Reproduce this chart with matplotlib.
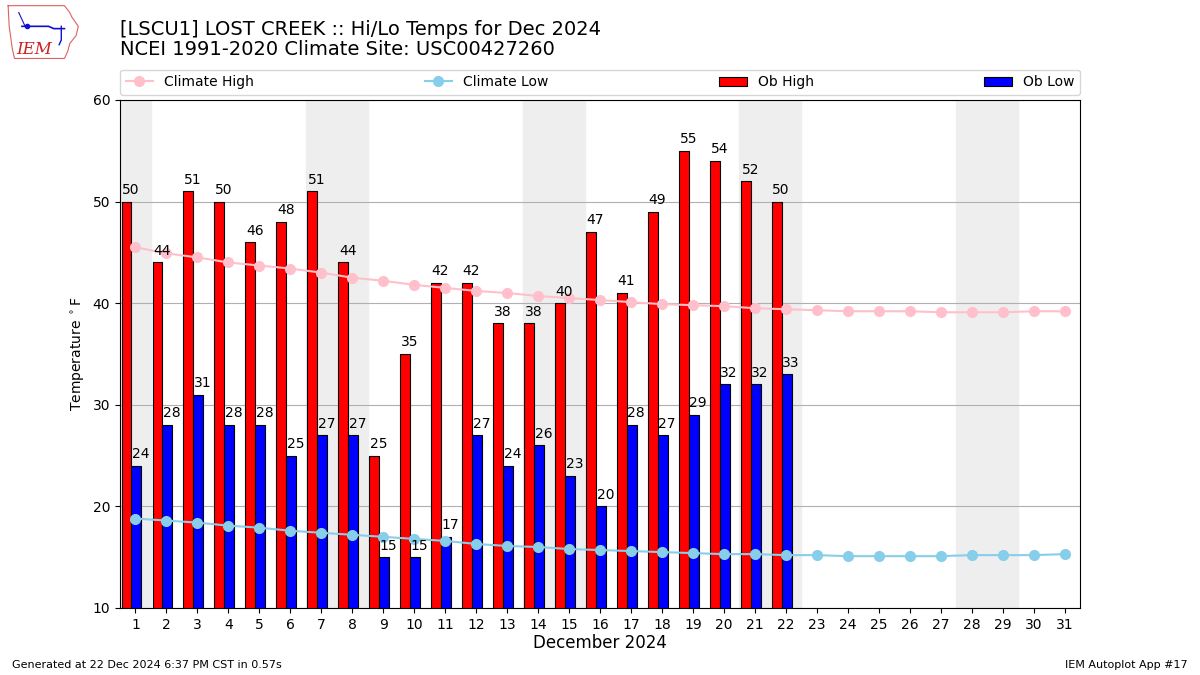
import numpy as np
import matplotlib.pyplot as plt

days = np.arange(1, 32)
ob_days = np.arange(1, 23)
ob_high = [50, 44, 51, 50, 46, 48, 51, 44, 25, 35, 42, 42, 38, 38, 40, 47, 41, 49, 55, 54, 52, 50]
ob_low = [24, 28, 31, 28, 28, 25, 27, 27, 15, 15, 17, 27, 24, 26, 23, 20, 28, 27, 29, 32, 32, 33]
clim_high = [45.5, 44.9, 44.5, 44.0, 43.7, 43.4, 43.0, 42.5, 42.2, 41.8, 41.5, 41.2, 41.0, 40.7, 40.5, 40.3,
             40.1, 39.9, 39.8, 39.7, 39.5, 39.4, 39.3, 39.2, 39.2, 39.2, 39.1, 39.1, 39.1, 39.2, 39.2]
clim_low = [18.8, 18.6, 18.4, 18.1, 17.9, 17.6, 17.4, 17.2, 17.0, 16.8, 16.6, 16.3, 16.1, 16.0, 15.8, 15.7,
            15.6, 15.5, 15.4, 15.3, 15.3, 15.2, 15.2, 15.1, 15.1, 15.1, 15.1, 15.2, 15.2, 15.2, 15.3]
weekend_starts = [0.5, 6.5, 13.5, 20.5, 27.5]  # Sat/Sun pairs (Dec 1 is a Sunday)
weekend_widths = [1, 2, 2, 2, 2]

fig = plt.figure(figsize=(12, 6.75), dpi=100)
ax = fig.add_axes([0.1, 0.0993, 0.8, 0.7527])

for s, w in zip(weekend_starts, weekend_widths):
    ax.axvspan(s, s + w, color='#eeeeee', zorder=0)

ax.plot(days, clim_high, '-o', color='pink', lw=1.5, ms=7, label='Climate High', zorder=3)
ax.plot(days, clim_low, '-o', color='skyblue', lw=1.5, ms=7, label='Climate Low', zorder=3)

bw = 0.32
ax.bar(ob_days - 0.45, ob_high, width=bw, align='edge', color='r', edgecolor='k',
       lw=0.8, label='Ob High', zorder=2)
ax.bar(ob_days - 0.13, ob_low, width=bw, align='edge', color='b', edgecolor='k',
       lw=0.8, label='Ob Low', zorder=2)
# value labels sit a little right of each bar's centre
for d, v in zip(ob_days, ob_high):
    ax.text(d - 0.15, v + 0.45, str(v), ha='center', va='bottom', fontsize=10, zorder=4)
for d, v in zip(ob_days, ob_low):
    ax.text(d + 0.17, v + 0.45, str(v), ha='center', va='bottom', fontsize=10, zorder=4)

ax.set_xlim(0.5, 31.5)
ax.set_ylim(10, 60)
ax.set_xticks(days)
ax.set_yticks(range(10, 61, 10))
ax.yaxis.grid(True, color='#b0b0b0')
ax.set_axisbelow(True)
ax.set_xlabel('December 2024', fontsize=12, labelpad=2)
ax.set_ylabel(r'Temperature $^\circ$F')

ax.legend(loc='lower left', bbox_to_anchor=(0, 1.01, 1, 0.05), mode='expand', ncol=4,
          fontsize=10, borderaxespad=0)

fig.text(0.1, 0.97, '[LSCU1] LOST CREEK :: Hi/Lo Temps for Dec 2024\nNCEI 1991-2020 Climate Site: USC00427260',
         fontsize=14, va='top', ha='left', linespacing=1.05)
fig.text(0.01, 0.01, 'Generated at 22 Dec 2024 6:37 PM CST in 0.57s', fontsize=8)
fig.text(0.99, 0.01, 'IEM Autoplot App #17', fontsize=8, ha='right')

# rough IEM logo
lax = fig.add_axes([0.005, 0.91, 0.062, 0.085])
lax.set_xlim(0, 70)
lax.set_ylim(0, 50)
lax.axis('off')
ox = [2, 55, 60, 62, 68, 66, 60, 58, 55, 8, 6, 3, 2]
oy = [48, 48, 42, 38, 30, 22, 15, 8, 2, 2, 10, 30, 48]
lax.plot(ox, oy, color='#e06060', lw=0.8)
lax.plot([15, 40, 45, 55], [30, 30, 28, 28], color='#1010cc', lw=1.2)
lax.plot([20], [30], 'o', color='#1010cc', ms=3)
lax.plot([12, 15, 18], [42, 36, 30], color='#1010cc', lw=0.8)
lax.plot([52, 52, 50], [30, 18, 14], color='#1010cc', lw=1.0)
lax.text(10, 6, 'IEM', color='#cc2020', fontsize=12, family='DejaVu Serif', style='italic')

fig.savefig('out.png')
